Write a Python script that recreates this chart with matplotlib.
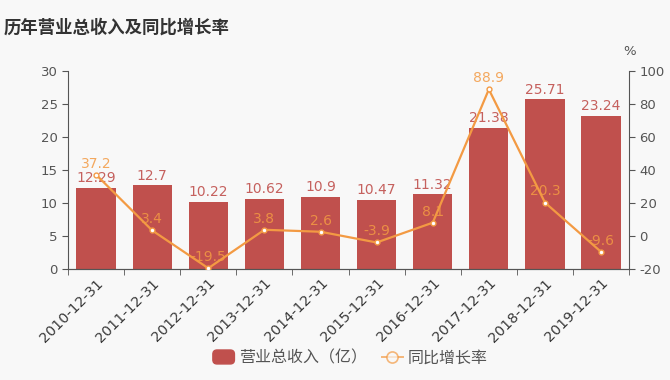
import matplotlib
matplotlib.use('Agg')
import matplotlib.pyplot as plt
from matplotlib.lines import Line2D
from matplotlib.patches import FancyBboxPatch
from matplotlib.legend_handler import HandlerPatch
import numpy as np

plt.rcParams['font.family'] = ['DejaVu Sans', 'Noto Sans CJK SC']
plt.rcParams['axes.unicode_minus'] = False

dates = ['2010-12-31', '2011-12-31', '2012-12-31', '2013-12-31', '2014-12-31',
         '2015-12-31', '2016-12-31', '2017-12-31', '2018-12-31', '2019-12-31']
revenue = [12.29, 12.7, 10.22, 10.62, 10.9, 10.47, 11.32, 21.38, 25.71, 23.24]
growth = [37.2, 3.4, -19.5, 3.8, 2.6, -3.9, 8.1, 88.9, 20.3, -9.6]

bar_color = '#c0504d'
line_color = '#f39a43'
bg = '#f8f8f8'
txt = '#555555'

fig = plt.figure(figsize=(6.7, 3.8), dpi=100, facecolor=bg)
ax = fig.add_axes([0.1015, 0.292, 0.8375, 0.521], facecolor=bg)
ax2 = ax.twinx()

x = np.arange(len(dates))
bars = ax.bar(x, revenue, width=0.7, color=bar_color, zorder=2)
ax.set_xlim(-0.5, len(dates) - 0.5)
ax.set_ylim(0, 30)
ax.set_yticks(range(0, 31, 5))
ax2.set_ylim(-20, 100)
ax2.set_yticks(range(-20, 101, 20))

ln, = ax2.plot(x, growth, color=line_color, lw=1.6, marker='o', ms=3.5,
               mfc='white', mec=line_color, mew=1, zorder=3)

for xi, v in zip(x, revenue):
    ax.text(xi, v + 0.4, f'{v:g}', ha='center', va='bottom', color=bar_color,
            fontsize=10, alpha=0.9, zorder=4)
for xi, v in zip(x, growth):
    ax2.text(xi, v + 2.5, f'{v:g}', ha='center', va='bottom', color=line_color,
             fontsize=10, alpha=0.85, zorder=4)

ax.set_xticks(x)
ax.set_xticklabels(dates, rotation=45, ha='right', rotation_mode='anchor', color='#3a3a3a', fontsize=10.3)
ax.set_xticks(np.arange(-0.5, len(dates)), minor=True)
ax.tick_params(axis='x', which='major', length=0, pad=5)
ax.tick_params(axis='x', which='minor', length=4, color=txt)
ax.tick_params(axis='y', labelsize=9.5, colors=txt, length=4)
ax2.tick_params(axis='y', labelsize=9.5, colors=txt, length=4)

for a in (ax, ax2):
    a.spines['top'].set_visible(False)
    for s in ('left', 'right', 'bottom'):
        a.spines[s].set_color(txt)
ax.spines['right'].set_visible(False)
ax2.spines['left'].set_visible(False)

fig.text(0.006, 0.915, '历年营业总收入及同比增长率', fontsize=12.5, fontweight='bold', color='#333333')
fig.text(0.94, 0.855, '%', fontsize=9.5, color=txt, ha='center')


def round_patch(legend, orig_handle, xdescent, ydescent, width, height, fontsize):
    return FancyBboxPatch((-xdescent, -ydescent - 1), width, height + 2,
                          boxstyle='round,pad=0,rounding_size=3')


bar_h = FancyBboxPatch((0, 0), 1, 1, color=bar_color)
line_h = Line2D([], [], color=line_color, lw=1.4, alpha=0.7, marker='o', ms=8,
                mfc=bg, mec=line_color, mew=1.2)
leg = fig.legend([bar_h, line_h], ['营业总收入（亿）', '同比增长率'], loc='center',
                 bbox_to_anchor=(0.523, 0.058), ncol=2, frameon=False, fontsize=11.5,
                 handlelength=1.35, columnspacing=0.9, handletextpad=0.3,
                 handler_map={FancyBboxPatch: HandlerPatch(patch_func=round_patch)})
for t in leg.get_texts():
    t.set_color(txt)

fig.savefig('out.png', dpi=100, facecolor=bg)
